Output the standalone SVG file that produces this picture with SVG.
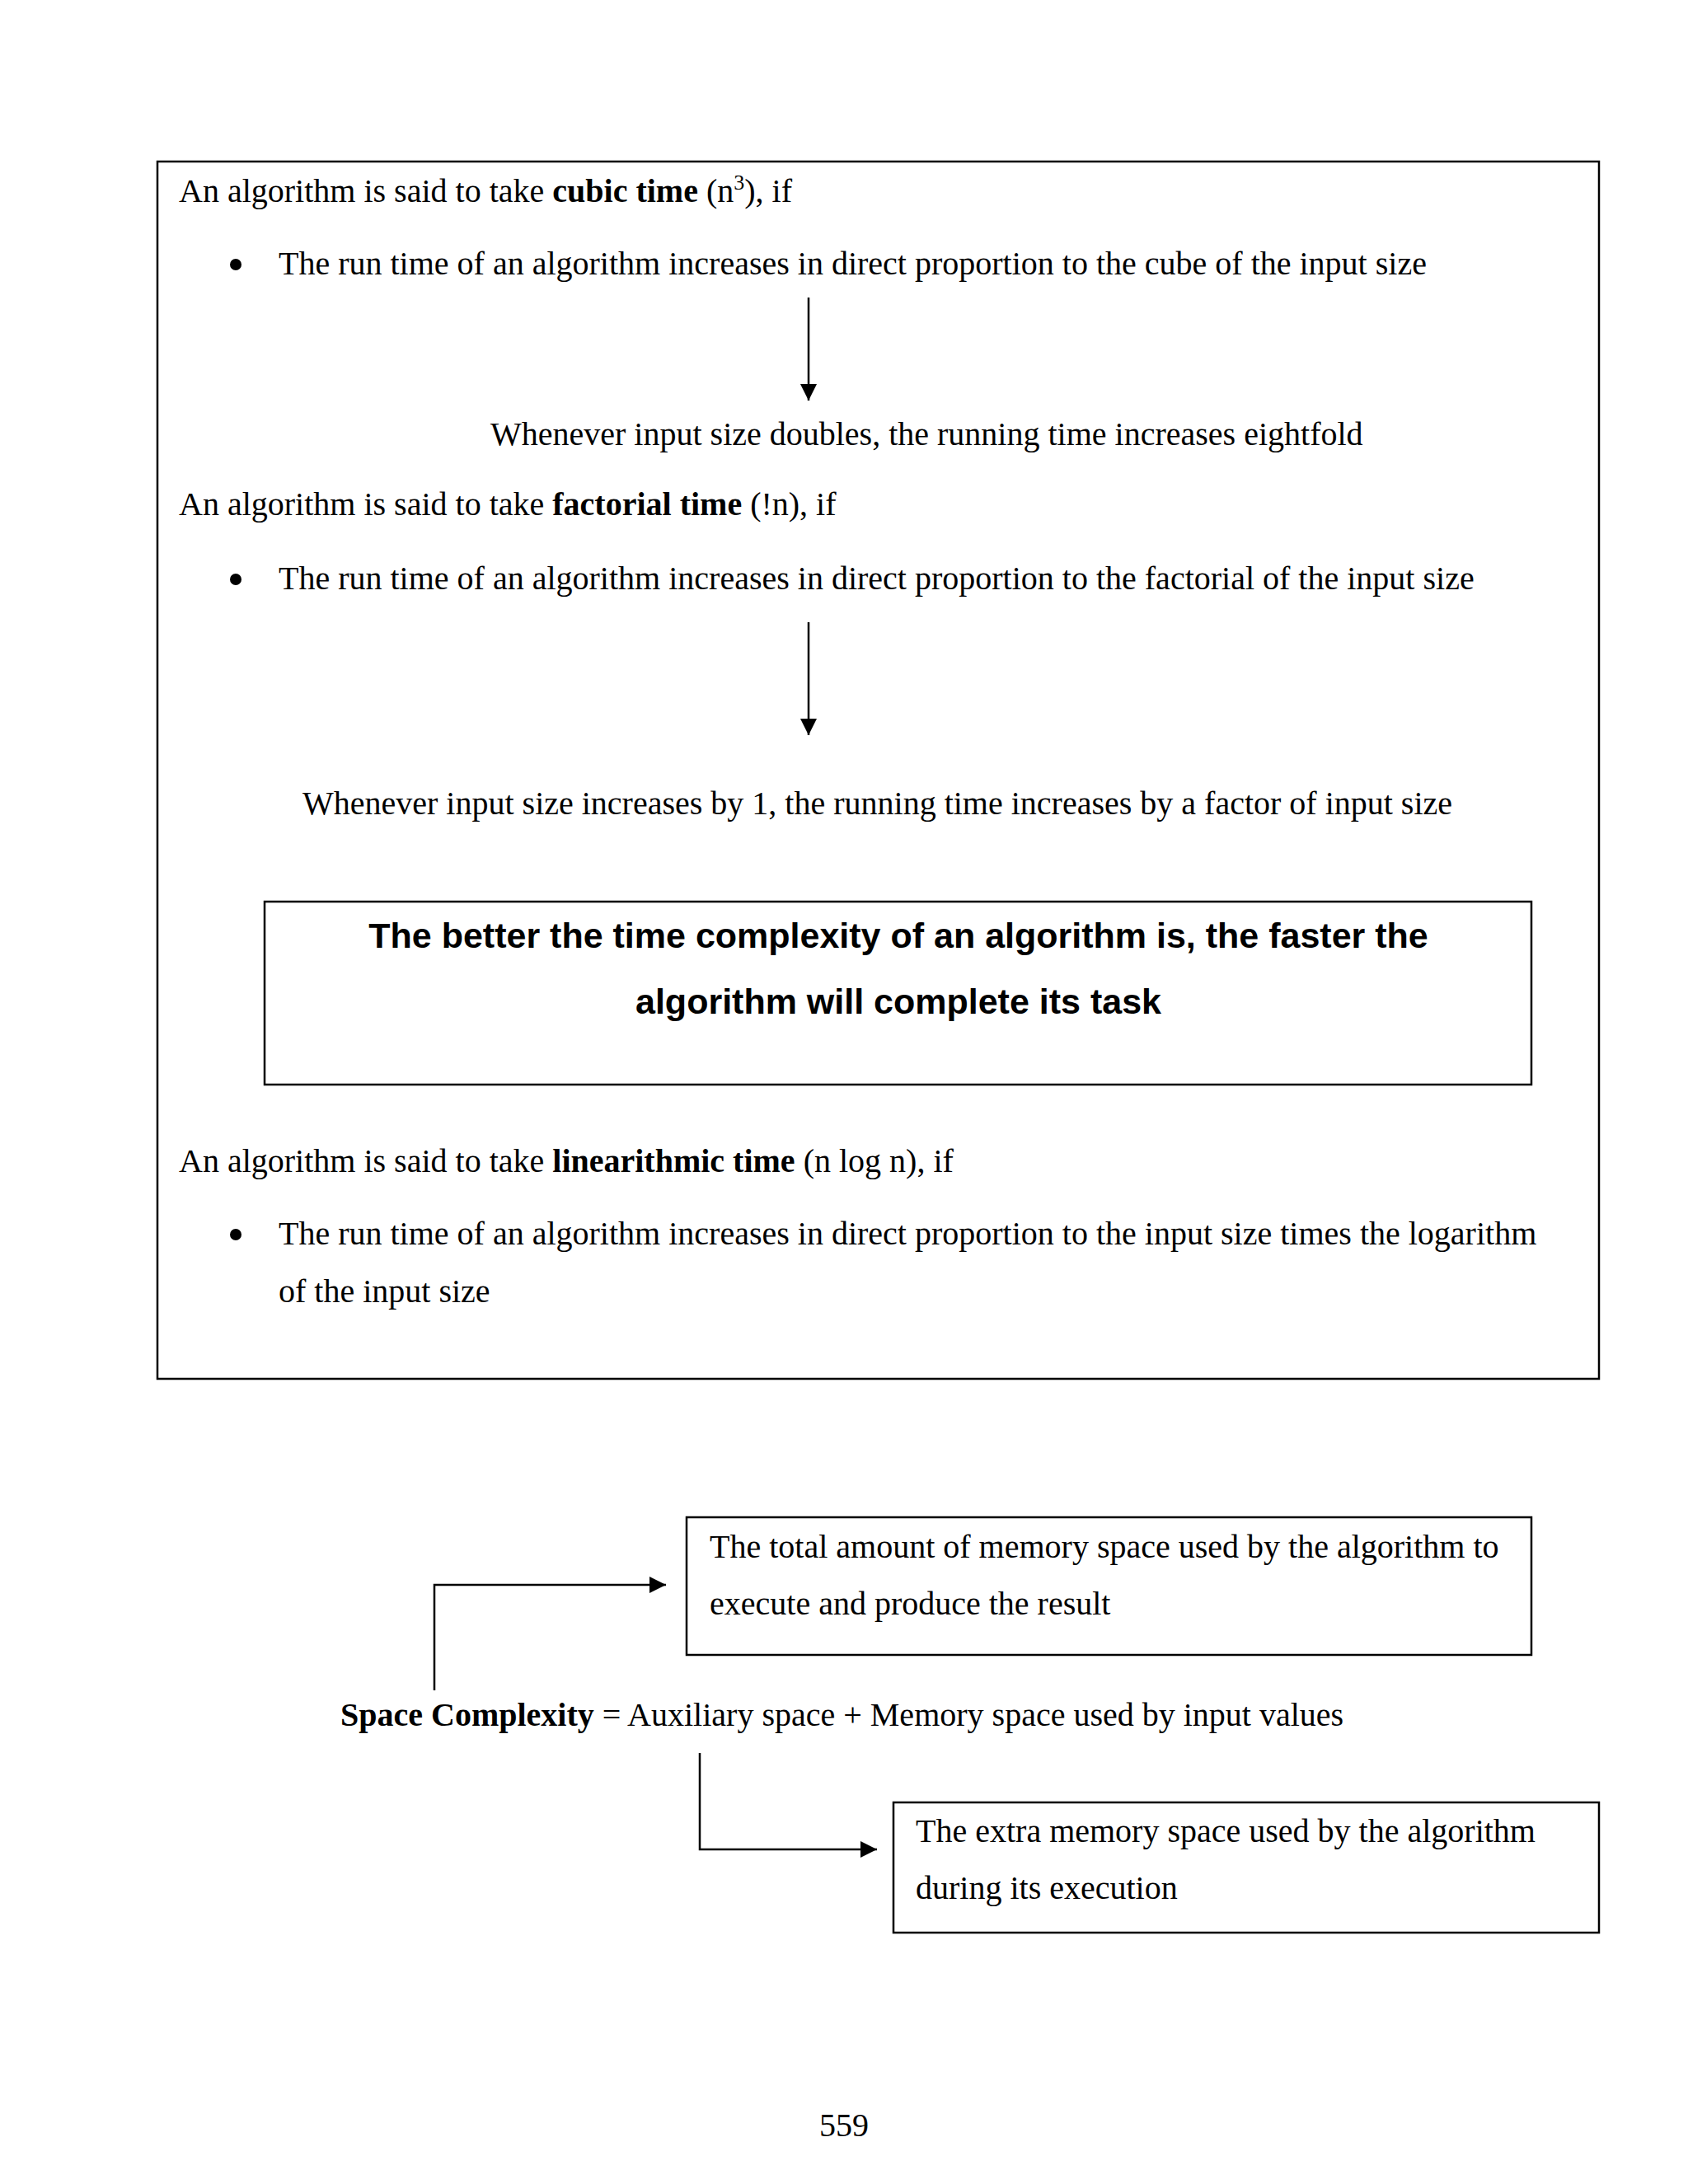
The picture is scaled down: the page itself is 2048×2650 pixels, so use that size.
<svg xmlns="http://www.w3.org/2000/svg" width="2048" height="2650" viewBox="0 0 2048 2650">
<style>
.t{font-family:"Liberation Serif","Times New Roman",serif;font-size:40px;fill:#000}
.b{font-weight:bold}
.h{font-family:"Liberation Sans",Arial,sans-serif;font-size:43px;font-weight:bold;fill:#000}
.box{fill:none;stroke:#000;stroke-width:2.5}
.ln{fill:none;stroke:#000;stroke-width:2.5}
.dot{fill:#000}
</style>
<defs>
<marker id="ah" markerWidth="20" markerHeight="20" refX="10" refY="5" orient="auto" markerUnits="userSpaceOnUse" viewBox="0 0 10 10">
<path d="M0,0 L10,5 L0,10 Z" fill="#000"/>
</marker>
</defs>
<rect width="2048" height="2650" fill="#fff"/>

<g id="time-complexity-box">
<rect class="box" x="191" y="196" width="1749" height="1477"/>
<text class="t" x="217" y="245">An algorithm is said to take <tspan class="b">cubic time</tspan> (n<tspan font-size="26" dy="-15">3</tspan><tspan dy="15">), if</tspan></text>
<circle class="dot" cx="286" cy="321" r="7"/>
<text class="t" x="338" y="333">The run time of an algorithm increases in direct proportion to the cube of the input size</text>
<text class="t" x="595" y="540">Whenever input size doubles, the running time increases eightfold</text>
<text class="t" x="217" y="625">An algorithm is said to take <tspan class="b">factorial time</tspan> (!n), if</text>
<circle class="dot" cx="286" cy="703" r="7"/>
<text class="t" x="338" y="715">The run time of an algorithm increases in direct proportion to the factorial of the input size</text>
<text class="t" x="367" y="988">Whenever input size increases by 1, the running time increases by a factor of input size</text>
<text class="t" x="217" y="1422">An algorithm is said to take <tspan class="b">linearithmic time</tspan> (n log n), if</text>
<circle class="dot" cx="286" cy="1498" r="7"/>
<text class="t" x="338" y="1510">The run time of an algorithm increases in direct proportion to the input size times the logarithm</text>
<text class="t" x="338" y="1580">of the input size</text>
</g>

<g id="summary-box">
<rect class="box" x="321" y="1094" width="1537" height="222"/>
<text class="h" x="1090" y="1150" text-anchor="middle">The better the time complexity of an algorithm is, the faster the</text>
<text class="h" x="1090" y="1230" text-anchor="middle">algorithm will complete its task</text>
</g>

<g id="total-space-box">
<rect class="box" x="833" y="1841" width="1025" height="167"/>
<text class="t" x="861" y="1890">The total amount of memory space used by the algorithm to</text>
<text class="t" x="861" y="1959">execute and produce the result</text>
</g>

<g id="space-formula">
<text class="t" x="413" y="2094"><tspan class="b">Space Complexity</tspan> = Auxiliary space + Memory space used by input values</text>
</g>

<g id="aux-space-box">
<rect class="box" x="1084" y="2187" width="856" height="158"/>
<text class="t" x="1111" y="2235">The extra memory space used by the algorithm</text>
<text class="t" x="1111" y="2304">during its execution</text>
</g>

<g id="connectors">
<line class="ln" x1="981" y1="361" x2="981" y2="486" marker-end="url(#ah)"/>
<line class="ln" x1="981" y1="755" x2="981" y2="892" marker-end="url(#ah)"/>
<polyline class="ln" points="527,2051 527,1923 808,1923" marker-end="url(#ah)"/>
<polyline class="ln" points="849,2127 849,2244 1064,2244" marker-end="url(#ah)"/>
</g>

<text class="t" x="1024" y="2592" text-anchor="middle">559</text>
</svg>
